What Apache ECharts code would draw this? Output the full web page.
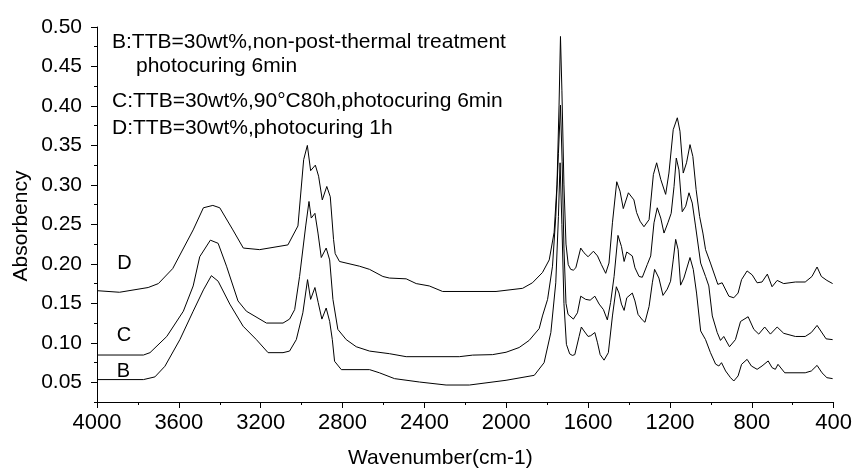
<!DOCTYPE html>
<html>
<head>
<meta charset="utf-8">
<script src="https://cdn.jsdelivr.net/npm/echarts@6/dist/echarts.min.js"></script>
<style>
  html, body { margin: 0; background: #fff; }
  #chart { width: 855px; height: 468px; }
</style>
</head>
<body>
<div id="chart"></div>
<script>
// wavenumber (cm-1), absorbency
const curveD = [
  [4000, 0.166], [3890, 0.164], [3750, 0.170], [3700, 0.175], [3630, 0.194], [3530, 0.243],
  [3480, 0.271], [3434, 0.274], [3400, 0.271], [3336, 0.243], [3285, 0.220], [3205, 0.218],
  [3067, 0.224], [3018, 0.248], [2990, 0.332], [2972, 0.350], [2956, 0.318], [2933, 0.325],
  [2917, 0.311], [2899, 0.281], [2877, 0.298], [2860, 0.285], [2844, 0.231], [2836, 0.213],
  [2815, 0.203], [2717, 0.197], [2668, 0.193], [2603, 0.184], [2571, 0.182], [2489, 0.181],
  [2440, 0.175], [2376, 0.172], [2311, 0.165], [2050, 0.165], [1920, 0.169], [1872, 0.176],
  [1823, 0.189], [1790, 0.205], [1766, 0.240], [1752, 0.300], [1742, 0.400], [1735, 0.488],
  [1728, 0.420], [1718, 0.300], [1708, 0.225], [1697, 0.199], [1685, 0.193], [1672, 0.192],
  [1660, 0.195], [1636, 0.220], [1620, 0.214], [1600, 0.209], [1574, 0.216], [1554, 0.210],
  [1535, 0.199], [1514, 0.188], [1498, 0.201], [1481, 0.252], [1460, 0.304], [1444, 0.292],
  [1428, 0.270], [1403, 0.290], [1376, 0.281], [1363, 0.265], [1346, 0.254], [1327, 0.247],
  [1302, 0.256], [1281, 0.313], [1265, 0.328], [1245, 0.307], [1221, 0.288], [1205, 0.315],
  [1184, 0.370], [1164, 0.385], [1151, 0.368], [1135, 0.315], [1119, 0.328], [1102, 0.351],
  [1088, 0.336], [1072, 0.294], [1055, 0.260], [1039, 0.239], [1026, 0.218], [1002, 0.201],
  [966, 0.174], [945, 0.176], [912, 0.159], [888, 0.157], [867, 0.163], [850, 0.180],
  [823, 0.191], [798, 0.186], [774, 0.176], [750, 0.177], [724, 0.187], [701, 0.171],
  [676, 0.179], [644, 0.175], [587, 0.177], [539, 0.177], [506, 0.184], [481, 0.196],
  [460, 0.184], [433, 0.179], [405, 0.175]
];

const curveC = [
  [4000, 0.0845], [3773, 0.0845], [3741, 0.0875], [3659, 0.108], [3578, 0.140], [3530, 0.172],
  [3498, 0.209], [3446, 0.230], [3408, 0.226], [3367, 0.197], [3311, 0.153], [3270, 0.140],
  [3172, 0.125], [3091, 0.125], [3059, 0.130], [3034, 0.142], [3010, 0.184], [2980, 0.248],
  [2964, 0.279], [2953, 0.258], [2935, 0.264], [2920, 0.239], [2904, 0.208], [2880, 0.220],
  [2863, 0.205], [2847, 0.155], [2823, 0.117], [2782, 0.104], [2733, 0.095], [2668, 0.0895],
  [2571, 0.0862], [2489, 0.0824], [2229, 0.0824], [2164, 0.0844], [2067, 0.085], [2001, 0.088],
  [1937, 0.094], [1888, 0.103], [1839, 0.118], [1823, 0.134], [1798, 0.155], [1774, 0.197],
  [1758, 0.260], [1745, 0.340], [1735, 0.401], [1727, 0.330], [1718, 0.220], [1708, 0.150],
  [1698, 0.136], [1672, 0.130], [1652, 0.138], [1636, 0.159], [1612, 0.155], [1590, 0.154],
  [1567, 0.159], [1546, 0.149], [1525, 0.142], [1506, 0.129], [1490, 0.151], [1473, 0.184],
  [1454, 0.236], [1437, 0.222], [1424, 0.203], [1411, 0.215], [1384, 0.210], [1371, 0.195],
  [1351, 0.184], [1335, 0.183], [1311, 0.199], [1294, 0.210], [1278, 0.252], [1262, 0.271],
  [1245, 0.258], [1229, 0.239], [1210, 0.252], [1194, 0.264], [1180, 0.298], [1169, 0.334],
  [1156, 0.319], [1140, 0.266], [1123, 0.273], [1107, 0.290], [1091, 0.277], [1075, 0.248],
  [1050, 0.201], [1026, 0.184], [1010, 0.172], [993, 0.134], [969, 0.113], [953, 0.103],
  [937, 0.108], [909, 0.095], [880, 0.104], [855, 0.127], [818, 0.133], [790, 0.117],
  [766, 0.111], [737, 0.120], [709, 0.111], [676, 0.120], [644, 0.112], [587, 0.108],
  [539, 0.108], [509, 0.113], [481, 0.122], [437, 0.105], [405, 0.104]
];

const curveB = [
  [4000, 0.0534], [3773, 0.0534], [3717, 0.0568], [3668, 0.0703], [3595, 0.104], [3530, 0.140],
  [3480, 0.167], [3441, 0.185], [3408, 0.178], [3351, 0.149], [3286, 0.121], [3221, 0.104],
  [3164, 0.0875], [3091, 0.0875], [3059, 0.0895], [3026, 0.104], [2994, 0.138], [2971, 0.180],
  [2956, 0.155], [2935, 0.170], [2919, 0.151], [2901, 0.130], [2880, 0.144], [2863, 0.127],
  [2850, 0.104], [2839, 0.0766], [2806, 0.066], [2668, 0.066], [2620, 0.062], [2546, 0.0546],
  [2424, 0.0503], [2294, 0.0465], [2180, 0.0465], [2001, 0.0525], [1863, 0.0588], [1815, 0.0748],
  [1782, 0.113], [1758, 0.176], [1745, 0.260], [1737, 0.328], [1728, 0.250], [1718, 0.150],
  [1706, 0.098], [1690, 0.086], [1677, 0.084], [1665, 0.085], [1644, 0.108], [1633, 0.120],
  [1620, 0.115], [1600, 0.108], [1587, 0.109], [1567, 0.113], [1554, 0.100], [1541, 0.085],
  [1522, 0.078], [1501, 0.0875], [1481, 0.134], [1462, 0.171], [1449, 0.163], [1437, 0.149],
  [1424, 0.141], [1411, 0.157], [1384, 0.163], [1371, 0.153], [1356, 0.136], [1335, 0.129],
  [1322, 0.126], [1302, 0.146], [1286, 0.176], [1275, 0.193], [1254, 0.182], [1234, 0.160],
  [1213, 0.168], [1197, 0.178], [1184, 0.205], [1172, 0.231], [1160, 0.218], [1148, 0.173],
  [1132, 0.182], [1102, 0.208], [1086, 0.193], [1070, 0.163], [1050, 0.115], [1026, 0.104],
  [1002, 0.0875], [977, 0.073], [961, 0.0706], [948, 0.0748], [928, 0.0643], [904, 0.0558],
  [888, 0.0516], [867, 0.058], [850, 0.0727], [823, 0.079], [802, 0.0706], [774, 0.0664],
  [750, 0.0706], [720, 0.077], [701, 0.0685], [685, 0.0664], [672, 0.0727], [639, 0.062],
  [539, 0.062], [509, 0.0643], [481, 0.0714], [457, 0.062], [433, 0.0558], [405, 0.0546]
];

const legendLines = [
  'B:TTB=30wt%,non-post-thermal treatment',
  'photocuring 6min',
  'C:TTB=30wt%,90°C80h,photocuring 6min',
  'D:TTB=30wt%,photocuring 1h'
];
const curveNames = ['D', 'C', 'B'];

const font = '"Liberation Sans", Arial, sans-serif';
const black = '#000';

let chart = echarts.init(document.getElementById('chart'));

function label(text, x, y, size, align, rotation) {
  return {
    type: 'text',
    x: x,
    y: y,
    rotation: rotation || 0,
    style: {
      text: text,
      fontSize: size,
      fontFamily: font,
      fill: black,
      textAlign: align || 'left',
      textVerticalAlign: 'middle'
    }
  };
}

function line(data) {
  return {
    type: 'line',
    xAxisIndex: 0,
    yAxisIndex: 0,
    data: data,
    symbol: 'none',
    lineStyle: { color: black, width: 1 },
    emphasis: { disabled: true }
  };
}

let option = {
  animation: false,
  backgroundColor: '#fff',
  textStyle: { fontFamily: font },
  grid: [
    { left: 97, right: 20, top: 27, bottom: 66 },
    // second grid only carries the labelled y ticks (0.05 .. 0.50)
    { left: 97, right: 20, top: 27, bottom: 85.3 }
  ],
  xAxis: [{
    type: 'value',
    gridIndex: 0,
    min: 400,
    max: 4000,
    interval: 400,
    inverse: true,
    axisLine: { lineStyle: { color: black, width: 1 } },
    axisTick: { length: 6, lineStyle: { color: black } },
    minorTick: { show: true, splitNumber: 2, length: 3, lineStyle: { color: black } },
    splitLine: { show: false },
    axisLabel: {
      fontSize: 22, color: black, margin: 10, fontFamily: font,
      formatter: v => String(v)
    }
  }, {
    type: 'value',
    gridIndex: 1,
    min: 400,
    max: 4000,
    inverse: true,
    show: false
  }],
  yAxis: [{
    type: 'value',
    gridIndex: 0,
    min: 0.025,
    max: 0.5,
    interval: 0.025,
    axisLine: { show: true, lineStyle: { color: black, width: 1 } },
    axisTick: { length: 3, lineStyle: { color: black } },
    axisLabel: { show: false },
    splitLine: { show: false }
  }, {
    type: 'value',
    gridIndex: 1,
    min: 0.05,
    max: 0.5,
    interval: 0.05,
    axisLine: { show: false },
    axisTick: { show: true, length: 6, lineStyle: { color: black } },
    axisLabel: {
      fontSize: 21, color: black, margin: 15, fontFamily: font,
      formatter: v => v.toFixed(2)
    },
    splitLine: { show: false }
  }],
  graphic: [
    label(legendLines[0], 112, 42, 21),
    label(legendLines[1], 136, 66, 21),
    label(legendLines[2], 112, 101, 21),
    label(legendLines[3], 112, 128.5, 21),
    label(curveNames[0], 124.5, 263, 20, 'center'),
    label(curveNames[1], 124, 335, 20, 'center'),
    label(curveNames[2], 123.5, 371, 20, 'center'),
    label('Wavenumber(cm-1)', 348, 458.5, 21),
    label('Absorbency', 21, 226, 21, 'center', Math.PI / 2)
  ],
  series: [line(curveD), line(curveC), line(curveB)]
};

chart.setOption(option);

window.addEventListener('resize', function () {
  chart.resize();
});
</script>
</body>
</html>
